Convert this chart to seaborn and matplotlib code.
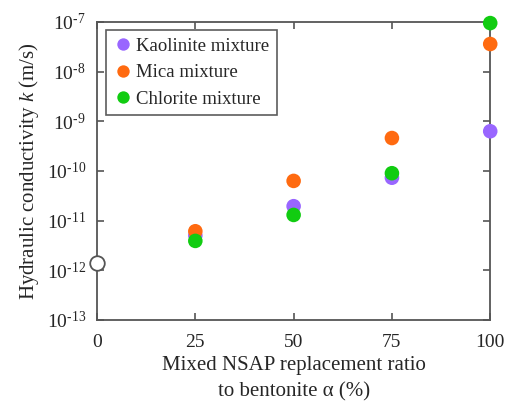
import numpy as np
import pandas as pd
import matplotlib
matplotlib.use("Agg")
import matplotlib.pyplot as plt
import seaborn as sns

ratio = [25, 50, 75, 100]
kaolinite = [5.0e-12, 1.95e-11, 7.3e-11, 6.3e-10]
mica = [6.1e-12, 6.3e-11, 4.6e-10, 3.6e-8]
chlorite = [3.9e-12, 1.3e-11, 9.0e-11, 9.5e-8]
bentonite_ratio = [0]
bentonite_k = [1.4e-12]

series = ["Kaolinite mixture", "Mica mixture", "Chlorite mixture"]
colors = ["#9966ff", "#ff6a10", "#11cc11"]

df = pd.DataFrame({
    "ratio": ratio * 3,
    "k": kaolinite + mica + chlorite,
    "mix": [s for s in series for _ in ratio],
})

sns.set_style("ticks")
plt.rcParams["font.family"] = ["Liberation Serif", "DejaVu Serif"]
plt.rcParams["mathtext.fontset"] = "custom"
plt.rcParams["mathtext.rm"] = "Liberation Serif"
plt.rcParams["mathtext.it"] = "Liberation Serif:italic"

fig = plt.figure(figsize=(5.08, 4.07), dpi=100)
ax = fig.add_axes([0.191, 0.214, 0.774, 0.732])

sns.scatterplot(data=df, x="ratio", y="k", hue="mix", hue_order=series,
                palette=colors, s=110, edgecolor="none", ax=ax, zorder=3,
                clip_on=False)
ax.scatter(bentonite_ratio, bentonite_k, s=110, facecolor="white",
           edgecolor="#555555", linewidth=1.3, zorder=4, clip_on=False)

ax.set_yscale("log")
ax.set_xlim(0, 100)
ax.set_ylim(1e-13, 1e-7)
ax.set_xticks([0, 25, 50, 75, 100])
ax.set_yticks([10.0 ** e for e in range(-13, -6)])
ax.yaxis.set_minor_locator(matplotlib.ticker.NullLocator())
ax.set_yticklabels([r"10$^{\text{-%d}}$" % -e for e in range(-13, -6)])
ax.tick_params(direction="in", length=5, width=1.2, color="#555555",
               labelsize=14, top=True, right=True)
ax.tick_params(axis="x", pad=10)
ax.tick_params(axis="y", pad=8)

for sp in ax.spines.values():
    sp.set_color("#555555")
    sp.set_linewidth(1.3)

ax.set_xlabel("Mixed NSAP replacement ratio\nto bentonite α (%)",
              fontsize=15, linespacing=1.5)
ax.set_ylabel("Hydraulic conductivity $k$ (m/s)", fontsize=15)

leg = ax.legend(loc="upper left", bbox_to_anchor=(0.023, 0.973),
                borderaxespad=0, fontsize=13.5,
                frameon=True, fancybox=False, edgecolor="#333333",
                handletextpad=0.2, borderpad=0.4, labelspacing=0.5,
                markerscale=0.85, handlelength=1.0)
leg.get_frame().set_linewidth(1.2)

fig.savefig("out.png", dpi=100)
